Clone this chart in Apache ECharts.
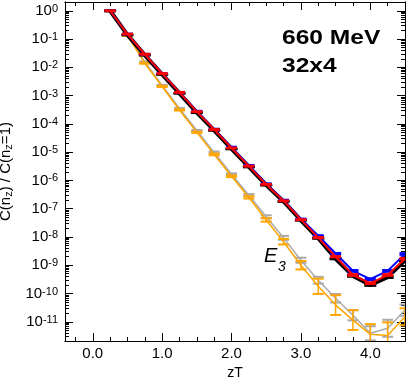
<!DOCTYPE html>
<html>
<head>
<meta charset="utf-8">
<script src="https://cdn.jsdelivr.net/npm/echarts@6/dist/echarts.min.js"></script>
<style>
  html, body { margin: 0; padding: 0; background: #fff; }
  #chart { width: 407px; height: 378px; }
</style>
</head>
<body>
<div id="chart"></div>
<script>
// zT values
const zT = [0.25, 0.5, 0.75, 1.0, 1.25, 1.5, 1.75, 2.0, 2.25, 2.5, 2.75, 3.0, 3.25, 3.5, 3.75, 4.0, 4.25, 4.5];

// C(n_z)/C(n_z=1)
const redVals = [1, 1.5e-1, 2.9e-2, 6.0e-3, 1.3e-3, 2.7e-4, 6.3e-5, 1.4e-5, 3.2e-6, 7.2e-7, 1.9e-7, 4.1e-8, 9.5e-9, 2.0e-9, 4.5e-10, 2.3e-10, 4.5e-10, 1.7e-9];
const blueVals = [1, 1.5e-1, 2.9e-2, 6.0e-3, 1.3e-3, 2.8e-4, 6.5e-5, 1.5e-5, 3.4e-6, 7.6e-7, 2.0e-7, 4.3e-8, 1.1e-8, 2.6e-9, 6.3e-10, 3.2e-10, 6.3e-10, 2.5e-9];
const blackVals = [1, 1.4e-1, 2.7e-2, 5.6e-3, 1.2e-3, 2.5e-4, 5.9e-5, 1.3e-5, 3.0e-6, 6.8e-7, 1.8e-7, 3.9e-8, 9.0e-9, 1.7e-9, 4.2e-10, 2.0e-10, 3.8e-10, 1.5e-9];
const grayVals = [1, 1.45e-1, 1.55e-2, 2.3e-3, 3.5e-4, 5.8e-5, 9.8e-6, 1.66e-6, 3.0e-7, 5.2e-8, 9.3e-9, 1.5e-9, 2.95e-10, 6.8e-11, 1.7e-11, 3.9e-12, 5.9e-12, 2.6e-11];
const orangeVals = [1, 1.35e-1, 1.4e-2, 2.1e-3, 3.1e-4, 5.0e-5, 8.3e-6, 1.4e-6, 2.5e-7, 4.0e-8, 6.8e-9, 1.0e-9, 1.8e-10, 3.9e-11, 1.15e-11, 3.6e-12, 3.3e-12, 1.5e-11];

// error half-widths in decades (log10 units)
const upperErr = [0.015, 0.015, 0.015, 0.015, 0.015, 0.015, 0.015, 0.015, 0.015, 0.015, 0.015, 0.015, 0.02, 0.02, 0.03, 0.03, 0.03, 0.03];
const grayErr = [0.02, 0.02, 0.02, 0.02, 0.02, 0.02, 0.03, 0.03, 0.04, 0.05, 0.07, 0.09, 0.12, 0.15, 0.18, 0.25, 0.3, 0.2];
const orangeErr = [0.02, 0.02, 0.02, 0.02, 0.02, 0.02, 0.03, 0.03, 0.04, 0.06, 0.1, 0.15, 0.27, 0.35, 0.35, 0.36, 0.46, 0.3];

// axis ticks
const xMajor = [0, 1, 2, 3, 4];
const xMinor = [-0.25, 0.25, 0.5, 0.75, 1.25, 1.5, 1.75, 2.25, 2.5, 2.75, 3.25, 3.5, 3.75, 4.25];
const yDecades = [-11, -10, -9, -8, -7, -6, -5, -4, -3, -2, -1, 0];

const X_MIN = -0.4, X_MAX = 4.5;
const Y_MIN = -11.68, Y_MAX = 0.31;

const yMinor = [];
for (let n = -12; n <= 0; n++) {
  for (let k = 2; k <= 9; k++) {
    const v = n + Math.log10(k);
    if (v > Y_MIN && v < Y_MAX) yMinor.push(v);
  }
}

const FONT = "'Liberation Sans', Arial, sans-serif";

function lineData(vals) {
  return zT.map((x, i) => [x, Math.log10(vals[i])]);
}

function errData(vals, errs) {
  return zT.map((x, i) => {
    const c = Math.log10(vals[i]);
    return [x, c - errs[i], c + errs[i]];
  });
}

function lineSeries(vals, color, width, z) {
  return {
    type: "line",
    data: lineData(vals),
    symbol: "none",
    lineStyle: { color: color, width: width },
    z: z,
    silent: true,
  };
}

function errSeries(vals, errs, color, capHalf, z) {
  return {
    type: "custom",
    data: errData(vals, errs),
    z: z,
    silent: true,
    renderItem: (params, api) => {
      const x = api.value(0), lo = api.value(1), hi = api.value(2);
      const cs = params.coordSys;
      const top = api.coord([x, Math.min(hi, Y_MAX)]);
      const bot = api.coord([x, Math.max(lo, Y_MIN)]);
      const st = { stroke: color, lineWidth: 2 };
      const children = [
        { type: "line", shape: { x1: top[0], y1: top[1], x2: bot[0], y2: bot[1] }, style: { stroke: color, lineWidth: 1.5 } },
      ];
      if (hi <= Y_MAX) {
        children.push({ type: "line", shape: { x1: top[0] - capHalf, y1: top[1], x2: top[0] + capHalf, y2: top[1] }, style: st });
      }
      if (lo >= Y_MIN) {
        children.push({ type: "line", shape: { x1: bot[0] - capHalf, y1: bot[1], x2: bot[0] + capHalf, y2: bot[1] }, style: st });
      }
      return {
        type: "group",
        children: children,
        clipPath: { type: "rect", shape: { x: cs.x, y: cs.y, width: cs.width, height: cs.height } },
      };
    },
  };
}

function xAxisCfg(position, ticks, len, labels) {
  return {
    type: "value",
    position: position,
    min: X_MIN,
    max: X_MAX,
    axisLine: { show: true, onZero: false, lineStyle: { color: "#000", width: 1 } },
    axisTick: { show: true, inside: true, length: len, customValues: ticks, lineStyle: { color: "#000", width: 1 } },
    axisLabel: labels
      ? { show: true, customValues: ticks, margin: 5, color: "#000", fontSize: 15, fontFamily: FONT, formatter: (v) => v.toFixed(1) }
      : { show: false },
    splitLine: { show: false },
    name: labels ? "zT" : "",
    nameLocation: "middle",
    nameGap: 21,
    nameTextStyle: { color: "#000", fontSize: 14, fontFamily: FONT },
  };
}

function yAxisCfg(position, ticks, len, labels) {
  return {
    type: "value",
    position: position,
    min: Y_MIN,
    max: Y_MAX,
    axisLine: { show: true, onZero: false, lineStyle: { color: "#000", width: 1 } },
    axisTick: { show: true, inside: true, length: len, customValues: ticks, lineStyle: { color: "#000", width: 1 } },
    axisLabel: labels
      ? {
          show: true,
          customValues: ticks,
          margin: 7,
          color: "#000",
          fontFamily: FONT,
          formatter: (v) => "{b|10}{s|" + Math.round(v) + "}",
          rich: {
            b: { fontSize: 15, fontFamily: FONT, color: "#000", lineHeight: 15, verticalAlign: "bottom" },
            s: { fontSize: 11, fontFamily: FONT, color: "#000", lineHeight: 11, verticalAlign: "top", padding: [0, 0, 7, 0] },
          },
        }
      : { show: false },
    splitLine: { show: false },
    name: labels ? "C(n{sub|z}) / C(n{sub|z}=1)" : "",
    nameLocation: "middle",
    nameGap: 50,
    nameRotate: 90,
    nameTextStyle: {
      color: "#000",
      fontSize: 15,
      fontFamily: FONT,
      rich: {
        sub: { fontSize: 11, fontFamily: FONT, color: "#000", verticalAlign: "bottom", padding: [6, 0, 0, 0] },
      },
    },
  };
}

const chart = echarts.init(document.getElementById("chart"));
chart.setOption({
  animation: false,
  backgroundColor: "#fff",
  grid: { left: 65, right: 2, top: 2, bottom: 37, containLabel: false, outerBoundsMode: "none" },
  xAxis: [
    xAxisCfg("bottom", xMajor, 8, true),
    xAxisCfg("bottom", xMinor, 4, false),
    xAxisCfg("top", xMajor, 8, false),
    xAxisCfg("top", xMinor, 4, false),
  ],
  yAxis: [
    yAxisCfg("left", yDecades, 8, true),
    yAxisCfg("left", yMinor, 4, false),
    yAxisCfg("right", yDecades, 8, false),
    yAxisCfg("right", yMinor, 4, false),
  ],
  graphic: [
    { type: "text", x: 282, y: 28, scaleX: 1.17, style: { text: "660 MeV", fontSize: 21, fontWeight: "bold", fontFamily: FONT, fill: "#000" } },
    { type: "text", x: 282, y: 56, scaleX: 1.17, style: { text: "32x4", fontSize: 21, fontWeight: "bold", fontFamily: FONT, fill: "#000" } },
    { type: "text", left: 264, top: 246, style: { text: "E", fontSize: 20, fontStyle: "italic", fontFamily: FONT, fill: "#000" } },
    { type: "text", left: 278, top: 260, style: { text: "3", fontSize: 14, fontStyle: "italic", fontFamily: FONT, fill: "#000" } },
  ],
  series: [
    lineSeries(grayVals, "#aaaaaa", 1.5, 2),
    errSeries(grayVals, grayErr, "#aaaaaa", 5.5, 2),
    lineSeries(orangeVals, "#ffa500", 1.5, 3),
    errSeries(orangeVals, orangeErr, "#ffa500", 5.5, 3),
    lineSeries(blackVals, "#000000", 4, 4),
    errSeries(blackVals, upperErr, "#000000", 6, 4),
    lineSeries(blueVals, "#0000ff", 2, 5),
    errSeries(blueVals, upperErr, "#0000ff", 5.5, 5),
    lineSeries(redVals, "#ff0000", 2, 6),
    errSeries(redVals, upperErr, "#ff0000", 5.5, 6),
  ],
});
</script>
</body>
</html>
